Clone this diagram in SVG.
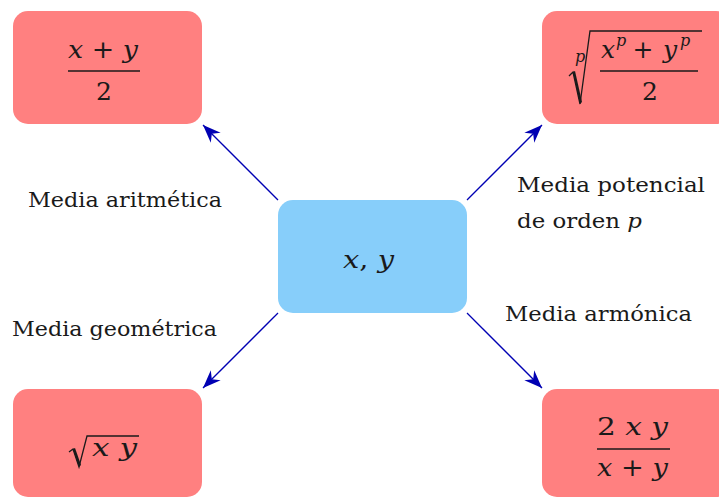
<svg xmlns="http://www.w3.org/2000/svg" width="719" height="498" viewBox="0 0 719 498">
<style>
.res{fill:#ff8080}
.ctr{fill:#87cefa}
.lbl{font-size:20.5px;fill:#1a1a1a}
.m{font-size:25px;fill:#1a1a1a}
.i{font-style:italic}
.sup{font-size:16px;font-style:italic;fill:#1a1a1a}
.bar{stroke:#1a1a1a;stroke-width:1.3;fill:none}
.rad{stroke:#1a1a1a;stroke-width:1.3;fill:none;stroke-linejoin:miter}
.arr{stroke:#0000b3;stroke-width:1.3;fill:none}
</style>
<defs>
<marker id="ah" markerUnits="userSpaceOnUse" markerWidth="24" markerHeight="20" viewBox="-20 -10 22 20" refX="0" refY="0" orient="auto">
<path d="M0,0 L-18,-7 L-12.5,0 L-18,7 Z" fill="#0000b3"/>
</marker>
</defs>
<g id="connectors">
<line class="arr" x1="278" y1="200" x2="203" y2="125" marker-end="url(#ah)"/>
<line class="arr" x1="467" y1="200" x2="542" y2="125" marker-end="url(#ah)"/>
<line class="arr" x1="278" y1="313" x2="203" y2="388" marker-end="url(#ah)"/>
<line class="arr" x1="467" y1="313" x2="542" y2="388" marker-end="url(#ah)"/>
</g>
<g font-family="DejaVu Serif, serif">
<g id="center">
<rect class="ctr" x="278" y="200" width="189" height="113" rx="15"/>
<text class="m" x="343" y="268" textLength="51" lengthAdjust="spacingAndGlyphs"><tspan class="i">x</tspan>, <tspan class="i">y</tspan></text>
</g>
<g id="arith">
<rect class="res" x="13" y="11" width="189" height="113" rx="15"/>
<text class="m" x="68" y="58" textLength="70" lengthAdjust="spacingAndGlyphs"><tspan class="i">x</tspan> + <tspan class="i">y</tspan></text>
<line class="bar" x1="68" y1="71" x2="140" y2="71"/>
<text class="m" x="104" y="100" text-anchor="middle">2</text>
</g>
<g id="power">
<rect class="res" x="542" y="11" width="189" height="113" rx="15"/>
<text class="sup" x="575" y="62">p</text>
<path class="rad" d="M569,76 L573,72 L580,104 L590,31 L702,31"/>
<path d="M573,72 L580,104 L582,102 L575,71 Z" fill="#1a1a1a"/>
<text class="m i" x="601" y="58">x</text>
<text class="sup" x="616" y="46">p</text>
<text class="m" x="643" y="58" text-anchor="middle">+</text>
<text class="m i" x="663" y="58">y</text>
<text class="sup" x="680" y="46">p</text>
<line class="bar" x1="600" y1="71" x2="698" y2="71"/>
<text class="m" x="650" y="100" text-anchor="middle">2</text>
</g>
<g id="geom">
<rect class="res" x="13" y="389" width="189" height="108" rx="15"/>
<path class="rad" d="M69,452 L73,449 L79,467 L87,436 L139,436"/>
<path d="M73,449 L79,467 L81,465 L75,448 Z" fill="#1a1a1a"/>
<text class="m" x="92" y="456" textLength="45" lengthAdjust="spacingAndGlyphs"><tspan class="i">x</tspan> <tspan class="i">y</tspan></text>
</g>
<g id="harm">
<rect class="res" x="542" y="389" width="189" height="108" rx="15"/>
<text class="m" x="597" y="435" textLength="71" lengthAdjust="spacingAndGlyphs">2 <tspan class="i">x</tspan> <tspan class="i">y</tspan></text>
<line class="bar" x1="597" y1="449" x2="670" y2="449"/>
<text class="m" x="597" y="476" textLength="71" lengthAdjust="spacingAndGlyphs"><tspan class="i">x</tspan> + <tspan class="i">y</tspan></text>
</g>
<g id="labels">
<text class="lbl" x="28" y="207" textLength="194" lengthAdjust="spacingAndGlyphs">Media aritmética</text>
<text class="lbl" x="517" y="192" textLength="188" lengthAdjust="spacingAndGlyphs">Media potencial</text>
<text class="lbl" x="517" y="228" textLength="125" lengthAdjust="spacingAndGlyphs">de orden <tspan class="i">p</tspan></text>
<text class="lbl" x="12" y="336" textLength="205" lengthAdjust="spacingAndGlyphs">Media geométrica</text>
<text class="lbl" x="505" y="321" textLength="187" lengthAdjust="spacingAndGlyphs">Media armónica</text>
</g>
</g>
</svg>
